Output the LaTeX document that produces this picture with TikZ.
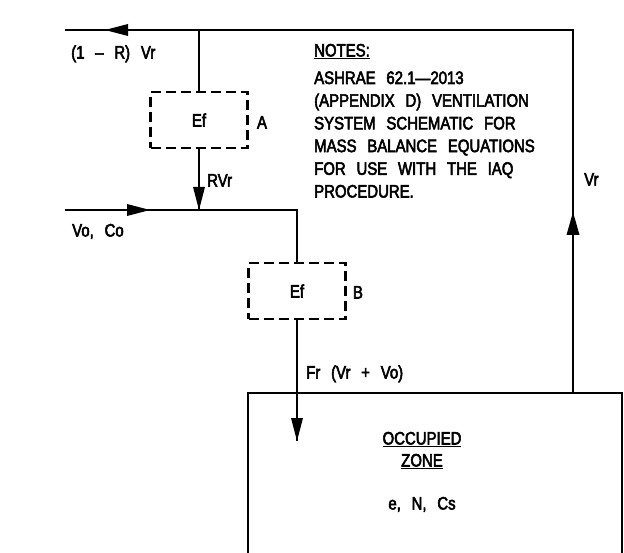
\documentclass[tikz,border=0pt]{standalone}
\usepackage{fontspec}
\setmainfont[WordSpace=2.6,FakeStretch=0.83,FakeBold=3]{Liberation Sans}
\usetikzlibrary{arrows.meta}
\begin{document}
\begin{tikzpicture}[x=1pt,y=-1pt,
  line/.style={line width=1.4pt},
  dbox/.style={draw,line width=2.2pt,dash pattern=on 10pt off 5pt,minimum width=97pt,minimum height=56pt,inner sep=0pt},
  lbl/.style={inner sep=0pt,font=\fontsize{18}{22}\selectfont},
  head/.style={fill=black,draw=none},
]
\useasboundingbox (0,0) rectangle (624,553);
\clip (0,0) rectangle (624,553);
% boxes
\node[dbox,lbl] (A) at (199,120) {Ef};
\node[dbox,lbl] (B) at (297,291) {Ef};
\node[minimum width=374pt,minimum height=190pt,inner sep=0pt] (Z) at (435,488) {};
\draw[line width=1.6pt] (Z.south west) -- (Z.north west) -- (Z.north east) -- (Z.south east);
% coordinates
\coordinate (tl) at (65,30);
\coordinate (tr) at (573,30);
\coordinate (jA) at (199,30);
\coordinate (vl) at (65,210);
\coordinate (j) at (199,210);
\coordinate (bc) at (297,210);
\coordinate (ft) at (297,441);
% connectors
\draw[line] (tl) -- (tr) -- (tr |- Z.north);
\draw[line] (jA) -- (A.north);
\draw[line] (A.south) -- (j);
\draw[line] (vl) -- (bc) -- (B.north);
\draw[line] (B.south) -- (ft);
% arrowheads
\fill[head] (105,30) -- (128,24) -- (128,36) -- cycle;
\fill[head] (150,210) -- (127,204) -- (127,216) -- cycle;
\fill[head] (199,210) -- (193,187) -- (205,187) -- cycle;
\fill[head] (573,212) -- (566.5,235) -- (579.5,235) -- cycle;
\fill[head] (ft) -- (291,418) -- (303,418) -- cycle;
% labels
\node[lbl,anchor=base west] (l1) at (71,58.5) {(1 – R) Vr};
\node[lbl,anchor=base west] (l2) at (72,236.5) {Vo, Co};
\node[lbl,anchor=base west] (l3) at (207,186.5) {RVr};
\node[lbl,anchor=base] (la) at (262,128.5) {A};
\node[lbl,anchor=base] (lb) at (358,298.5) {B};
\node[lbl,anchor=base west] (l4) at (306,378.5) {Fr (Vr + Vo)};
\node[lbl,anchor=base west] (l5) at (584,185.5) {Vr};
% notes
\node[lbl,anchor=base west] (n0) at (314,56.5) {\underline{NOTES:}};
\foreach \t [count=\i from 0] in {ASHRAE 62.1—2013,(APPENDIX D) VENTILATION,SYSTEM SCHEMATIC FOR,MASS BALANCE EQUATIONS,FOR USE WITH THE IAQ,PROCEDURE.}
  \node[lbl,anchor=base west] (n\i) at (314,84+22.7*\i) {\t};
% zone text
\node[lbl,anchor=base] (z1) at (422,444.5) {\underline{OCCUPIED}};
\node[lbl,anchor=base] (z2) at (422,466.5) {\underline{ZONE}};
\node[lbl,anchor=base] (z3) at (422,509.5) {e, N, Cs};
\end{tikzpicture}
\end{document}
